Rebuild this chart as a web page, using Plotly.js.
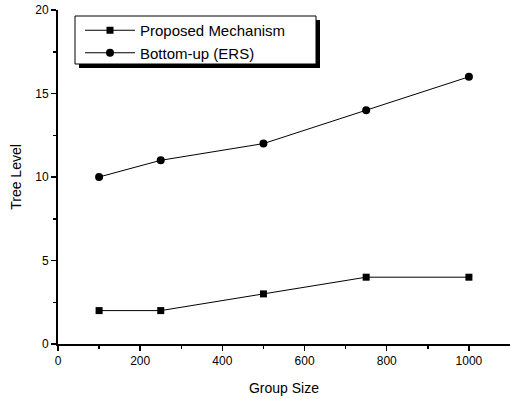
<!DOCTYPE html>
<html>
<head>
<script src="https://cdn.plot.ly/plotly-3.0.1.min.js"></script>
<style>body{margin:0;padding:0;background:#fff;}#chart{width:510px;height:399px;}</style>
</head>
<body>
<div id="chart"></div>
<script>
const groupSize = [100, 250, 500, 750, 1000];
const proposed = [2, 2, 3, 4, 4];
const bottomUp = [10, 11, 12, 14, 16];
const seriesNames = ["Proposed Mechanism", "Bottom-up (ERS)"];

const L = 58, T = 10, W = 452, H = 334;
function px(x){ return (x - L) / W; }
function py(y){ return (T + H - y) / H; }

const traces = [
  {x: groupSize, y: proposed, name: seriesNames[0], mode: 'lines+markers',
   line: {color: '#000', width: 1}, marker: {symbol: 'square', size: 7, color: '#000'}},
  {x: groupSize, y: bottomUp, name: seriesNames[1], mode: 'lines+markers',
   line: {color: '#000', width: 1}, marker: {symbol: 'circle', size: 8, color: '#000'}}
];

const layout = {
  width: 510, height: 399,
  margin: {l: L, r: 0, t: T, b: 399 - T - H},
  paper_bgcolor: '#fff', plot_bgcolor: '#fff',
  font: {family: 'Liberation Sans, Arial, sans-serif', color: '#000', size: 12},
  showlegend: true,
  legend: {x: px(80), y: py(14), xanchor: 'left', yanchor: 'top',
    bgcolor: 'rgba(0,0,0,0)', borderwidth: 0, itemwidth: 50,
    font: {size: 15}, tracegroupgap: 0},
  xaxis: {range: [0, 1100], showgrid: false, zeroline: false,
    showline: true, linecolor: '#000', linewidth: 2,
    ticks: 'outside', ticklen: 5, tickwidth: 1.5, tickcolor: '#000',
    tickvals: [0, 200, 400, 600, 800, 1000],
    minor: {tickvals: [100, 300, 500, 700, 900], ticks: 'outside', ticklen: 3, tickcolor: '#000'},
    title: {text: 'Group Size', font: {size: 14}, standoff: 16},
    tickfont: {size: 12}},
  yaxis: {range: [0, 20], showgrid: false, zeroline: false,
    showline: true, linecolor: '#000', linewidth: 2,
    ticks: 'outside', ticklen: 5, tickwidth: 1.5, tickcolor: '#000',
    tickvals: [0, 5, 10, 15, 20],
    minor: {tickvals: [2.5, 7.5, 12.5, 17.5], ticks: 'outside', ticklen: 3, tickcolor: '#000'},
    title: {text: 'Tree Level', font: {size: 14}, standoff: 10},
    tickfont: {size: 12}},
  shapes: [
    {type: 'rect', xref: 'paper', yref: 'paper', x0: px(79), x1: px(320), y0: py(68), y1: py(20),
     fillcolor: '#000', line: {width: 0}, layer: 'above'},
    {type: 'rect', xref: 'paper', yref: 'paper', x0: px(75), x1: px(316), y0: py(64), y1: py(16),
     fillcolor: '#fff', line: {width: 1, color: '#000'}, layer: 'above'}
  ]
};

Plotly.newPlot('chart', traces, layout, {displayModeBar: false, staticPlot: true});
</script>
</body>
</html>
